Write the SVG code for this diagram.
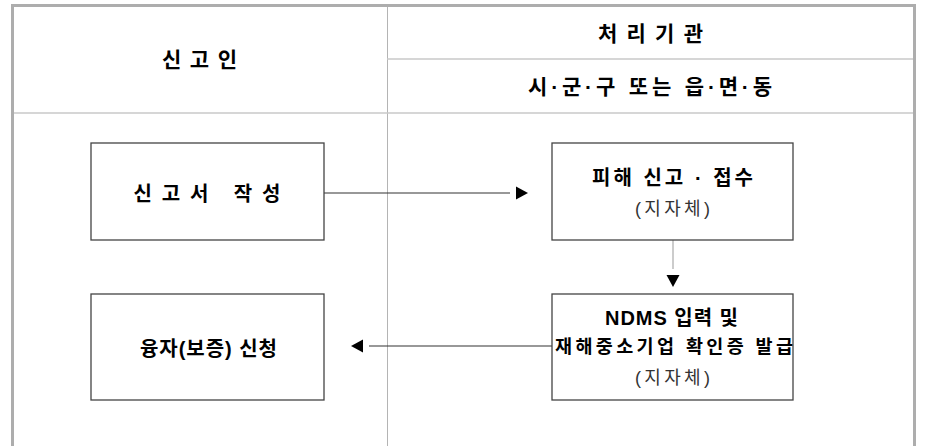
<svg xmlns="http://www.w3.org/2000/svg" width="925" height="446" viewBox="0 0 925 446">
<style>
.frame{fill:none;stroke:#adadad;stroke-width:3}
.grid{fill:none;stroke:#c8c8c8;stroke-width:1.5}
.div{fill:none;stroke:#b4b4b4;stroke-width:1}
.box{fill:#fff;stroke:#444;stroke-width:1.3}
.h{font-family:"Liberation Sans","Noto Sans CJK KR",sans-serif;font-size:21px;font-weight:bold;fill:#000;text-anchor:middle}
.t{font-family:"Liberation Sans","Noto Sans CJK KR",sans-serif;font-size:20px;font-weight:bold;fill:#000;text-anchor:middle}
.n{font-size:18.5px}
.s{font-family:"Liberation Sans","Noto Sans CJK KR",sans-serif;font-size:18px;font-weight:normal;fill:#333;text-anchor:middle}
.c{fill:none;stroke:#333;stroke-width:1.2}
.cv{fill:none;stroke:#aaa;stroke-width:1.2}
</style>
<defs>
<marker id="ah" viewBox="0 -7 20 14" markerWidth="20" markerHeight="14" refX="0" refY="0" orient="auto" markerUnits="userSpaceOnUse">
<path d="M6,-6.5 L18,0 L6,6.5 Z" fill="#000"/>
</marker>
</defs>
<rect width="925" height="446" fill="#fff"/>
<g id="table">
<line class="div" x1="387.5" y1="5" x2="387.5" y2="446"/>
<line class="grid" x1="387" y1="59" x2="913" y2="59"/>
<line class="grid" x1="14" y1="113" x2="913" y2="113"/>
<path class="frame" d="M12.5,446 V5.5 H914.5 V446"/>
<text class="h" x="199.5" y="66.5" textLength="75" lengthAdjust="spacing">신 고 인</text>
<text class="h" x="650.5" y="40.5" textLength="105" lengthAdjust="spacing">처 리 기 관</text>
<text class="h" x="650" y="93.5" textLength="244" lengthAdjust="spacing">시·군·구 또는 읍·면·동</text>
</g>
<g id="connectors">
<line class="c" x1="324" y1="193" x2="510" y2="193" marker-end="url(#ah)"/>
<line class="cv" x1="673" y1="240" x2="673" y2="269" marker-end="url(#ah)"/>
<line class="c" x1="552" y1="346" x2="369" y2="346" marker-end="url(#ah)"/>
</g>
<g id="n1">
<rect class="box" x="91" y="143" width="233" height="97"/>
<text class="t" x="207" y="200.5" textLength="147" lengthAdjust="spacing">신고서  작성</text>
</g>
<g id="n2">
<rect class="box" x="552" y="143" width="241" height="97"/>
<text class="t" x="672.5" y="184.5" textLength="161" lengthAdjust="spacing">피해 신고 · 접수</text>
<text class="s" x="672.5" y="214.5" textLength="75" lengthAdjust="spacing">(지자체)</text>
</g>
<g id="n3">
<rect class="box" x="552" y="294" width="241" height="106"/>
<text class="t" x="671.5" y="325" textLength="133" lengthAdjust="spacing">NDMS 입력 및</text>
<text class="t n" x="674" y="353" textLength="238" lengthAdjust="spacing">재해중소기업 확인증 발급</text>
<text class="s" x="672.5" y="383.5" textLength="75" lengthAdjust="spacing">(지자체)</text>
</g>
<g id="n4">
<rect class="box" x="91" y="294" width="233" height="106"/>
<text class="t" x="208.5" y="355.5" textLength="137" lengthAdjust="spacing">융자(보증) 신청</text>
</g>
</svg>
